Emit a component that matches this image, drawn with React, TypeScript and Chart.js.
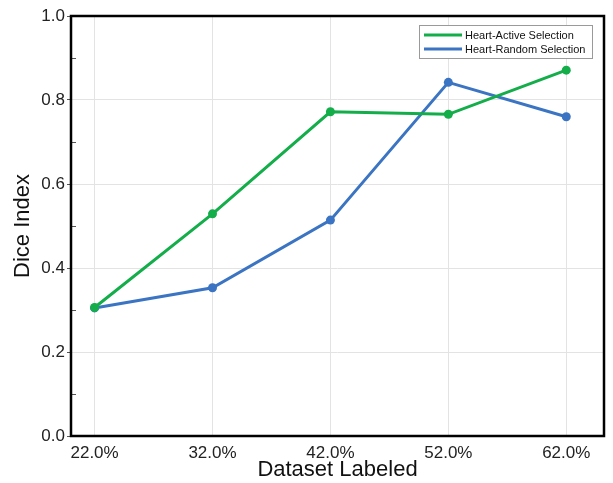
import React, { useEffect, useRef } from "react";
import { Chart, registerables } from "chart.js";

Chart.register(...registerables);

const xValues = [22, 32, 42, 52, 62];
const xTickLabels = ["22.0%", "32.0%", "42.0%", "52.0%", "62.0%"];
const activeSelection = [0.306, 0.529, 0.772, 0.766, 0.871];
const randomSelection = [0.305, 0.353, 0.514, 0.842, 0.76];
const seriesNames = ["Heart-Active Selection", "Heart-Random Selection"];
const yTicks = [0, 0.2, 0.4, 0.6, 0.8, 1.0];
const yMinorTicks = [0.1, 0.3, 0.5, 0.7, 0.9];

const GREEN = "#13ad4a";
const BLUE = "#3a74c2";
const FONT = "'Liberation Sans', Arial, sans-serif";

const framePlugin = {
  id: "frame",
  afterDraw(chart: any) {
    const { ctx, chartArea } = chart;
    const yScale = chart.scales.y;
    ctx.save();
    ctx.strokeStyle = "#555";
    ctx.lineWidth = 1;
    yMinorTicks.forEach((v) => {
      const py = Math.round(yScale.getPixelForValue(v)) + 0.5;
      ctx.beginPath();
      ctx.moveTo(chartArea.left + 1, py);
      ctx.lineTo(chartArea.left + 5, py);
      ctx.stroke();
    });
    ctx.strokeStyle = "#000";
    ctx.lineWidth = 2.5;
    ctx.strokeRect(chartArea.left, chartArea.top, chartArea.right - chartArea.left, chartArea.bottom - chartArea.top);

    const bx = 419.5, by = 25.5, bw = 173, bh = 33;
    ctx.fillStyle = "#fff";
    ctx.fillRect(bx, by, bw, bh);
    ctx.strokeStyle = "#9a9a9a";
    ctx.lineWidth = 1;
    ctx.strokeRect(bx, by, bw, bh);
    ctx.font = `11px ${FONT}`;
    ctx.textBaseline = "middle";
    ctx.textAlign = "left";
    chart.data.datasets.forEach((ds: any, i: number) => {
      const ly = 35 + i * 14;
      ctx.strokeStyle = ds.borderColor;
      ctx.lineWidth = 3;
      ctx.beginPath();
      ctx.moveTo(424, ly);
      ctx.lineTo(462, ly);
      ctx.stroke();
      ctx.fillStyle = "#111";
      ctx.fillText(ds.label, 465, ly + 0.5);
    });
    ctx.restore();
  },
};

export default function App() {
  const canvasRef = useRef<HTMLCanvasElement>(null);

  useEffect(() => {
    document.body.style.margin = "0";
    const canvas = canvasRef.current!;
    const chart = new Chart(canvas, {
      type: "line",
      data: {
        datasets: [
          {
            label: seriesNames[0],
            data: xValues.map((x, i) => ({ x, y: activeSelection[i] })),
            borderColor: GREEN,
            backgroundColor: GREEN,
            borderWidth: 3,
            pointRadius: 4.5,
            pointBorderWidth: 0,
            pointBackgroundColor: GREEN,
            tension: 0,
          },
          {
            label: seriesNames[1],
            data: xValues.map((x, i) => ({ x, y: randomSelection[i] })),
            borderColor: BLUE,
            backgroundColor: BLUE,
            borderWidth: 3,
            pointRadius: 4.5,
            pointBorderWidth: 0,
            pointBackgroundColor: BLUE,
            tension: 0,
          },
        ],
      },
      options: {
        animation: false,
        responsive: false,
        devicePixelRatio: 1,
        layout: { padding: { left: 0, right: 9, top: 16, bottom: 0 } },
        plugins: {
          legend: { display: false },
          tooltip: { enabled: false },
        },
        scales: {
          x: {
            type: "linear",
            min: 20,
            max: 65.2,
            afterBuildTicks: (scale: any) => {
              scale.ticks = xValues.map((v) => ({ value: v }));
            },
            afterFit: (scale: any) => {
              scale.height = 47;
            },
            grid: {
              color: "#e3e3e3",
              lineWidth: 1,
              drawTicks: false,
            },
            border: { display: false },
            ticks: {
              autoSkip: false,
              maxRotation: 0,
              padding: 7,
              color: "#222",
              font: { family: FONT, size: 17 },
              callback: (v: any) => {
                const idx = xValues.indexOf(Number(v));
                return idx >= 0 ? xTickLabels[idx] : "";
              },
            },
            title: {
              display: true,
              text: "Dataset Labeled",
              color: "#111",
              font: { family: FONT, size: 22 },
              padding: { top: 0, bottom: 0 },
            },
          },
          y: {
            type: "linear",
            min: 0,
            max: 1,
            afterBuildTicks: (scale: any) => {
              scale.ticks = yTicks.map((v) => ({ value: v }));
            },
            afterFit: (scale: any) => {
              scale.width = 71;
            },
            grid: {
              color: (c: any) => (c.tick && (c.tick.value === 0 || c.tick.value === 1) ? "rgba(0,0,0,0)" : "#e3e3e3"),
              tickColor: "#555",
              lineWidth: 1,
              tickLength: 4,
            },
            border: { display: false },
            ticks: {
              padding: 2,
              color: "#222",
              font: { family: FONT, size: 17 },
              callback: (v: any) => Number(v).toFixed(1),
            },
            title: {
              display: true,
              text: "Dice Index",
              color: "#111",
              font: { family: FONT, size: 22 },
              padding: { top: 10, bottom: 0 },
            },
          },
        },
      },
      plugins: [framePlugin],
    } as any);
    return () => chart.destroy();
  }, []);

  return (
    <div style={{ position: "absolute", left: 0, top: 0, width: 613, height: 483, background: "#fff" }}>
      <canvas ref={canvasRef} width={613} height={483} style={{ display: "block" }} />
    </div>
  );
}
